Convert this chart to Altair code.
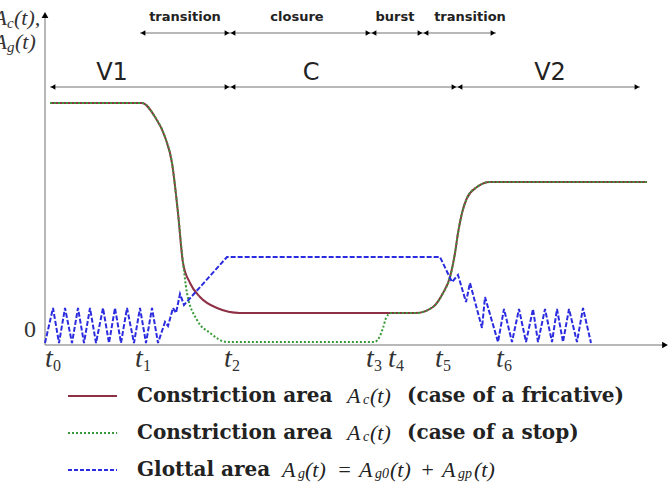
import altair as alt
import pandas as pd

# ---- curves (t: time units from origin, A: area units) ----
fric_t = [5, 97, 110, 120, 127, 133, 138, 145, 155, 172, 195, 371, 388, 398, 405, 410, 413, 417, 422, 432, 445, 602]
fric_A = [242, 242, 228, 208, 182, 132, 82, 62, 48, 37, 32, 32, 38, 52, 68, 92, 112, 132, 147, 158, 163, 163]

stop_t = [5, 97, 110, 120, 127, 133, 137, 142, 152, 165, 182, 329, 335, 338, 341, 346, 371, 388, 398, 405, 410, 413, 417, 422, 432, 445, 602]
stop_A = [242, 242, 228, 208, 182, 132, 92, 52, 25, 12, 3, 3, 9, 17, 27, 32, 32, 38, 52, 68, 92, 112, 132, 147, 158, 163, 163]

glot_t = [0, 8, 14, 20, 27, 33, 39, 45, 51, 58, 64, 70, 76, 82, 89, 95, 101, 107, 113,
          120, 123, 128, 131, 135, 139, 182,
          395, 407, 413, 421, 425, 437, 440, 453,
          459, 467, 474, 481, 488, 493, 500, 507, 512, 518, 524, 532, 538, 546]
glot_A = [2, 37, 2, 37, 2, 37, 2, 37, 2, 37, 2, 37, 2, 37, 2, 37, 2, 37, 2,
          23, 19, 37, 32, 51, 40, 88,
          88, 63, 70, 43, 62, 17, 48, 3,
          36, 3, 36, 3, 36, 3, 36, 3, 36, 3, 36, 3, 37, 2]

# ---- time marks ----
tick_t = [4, 94, 183, 325, 347, 394, 455]
tick_sub = ["0", "1", "2", "3", "4", "5", "6"]

# ---- phase annotations ----
row1_bounds = [95, 185, 326, 378, 451]
row1_labels = ["transition", "closure", "burst", "transition"]
row1_label_t = [140, 252, 350, 425]
row2_bounds = [5, 185, 412, 595]
row2_labels = ["V1", "C", "V2"]
row2_label_t = [67, 266, 505]
row1_A, row1_text_A = 312, 328
row2_A, row2_text_A = 258, 272

# ---- legend ----
leg_rows = [-51, -88, -125]
leg_line = [23, 72]
bold_text = ["Constriction area", "(case of a fricative)", "Constriction area", "(case of a stop)", "Glottal area"]
bold_t = [92, 362, 92, 362, 92]
bold_row = [-51, -51, -88, -88, -125]
math_text = ["A", "(t)", "A", "(t)", "A", "(t)", "=", "A", "(t)", "+", "A", "(t)"]
math_t = [302, 325, 302, 325, 237, 260, 292, 314, 345, 375, 397, 429]
math_row = [-51, -51, -88, -88, -125, -125, -125, -125, -125, -125, -125, -125]
sub_text = ["c", "c", "g", "g0", "gp"]
sub_t = [318, 318, 253, 330, 413]
sub_row = [-51, -88, -125, -125, -125]

xs = alt.Scale(domain=[-45, 627], nice=False, zero=False)
ys = alt.Scale(domain=[-137, 345], nice=False, zero=False)


def X(f="t"):
    return alt.X(f"{f}:Q", scale=xs, axis=None)


def Y(f="A"):
    return alt.Y(f"{f}:Q", scale=ys, axis=None)


def line(t, a, color, width, dash=None, interp="monotone"):
    df = pd.DataFrame({"t": t, "A": a, "i": range(len(t))})
    kw = dict(color=color, strokeWidth=width, interpolate=interp)
    if dash:
        kw["strokeDash"] = dash
    return alt.Chart(df).mark_line(**kw).encode(x=X(), y=Y(), order="i:Q")


def text(df, **kw):
    return alt.Chart(df).mark_text(**kw).encode(x=X(), y=Y(), text="s:N")


RED, GREEN, BLUE = "#8e3045", "#3a9a3a", "#2b2bdf"
GRAY = "#a0a0a0"

layers = []

# axes
axes_h = pd.DataFrame({"t": [0], "t2": [620], "A": [0]})
axes_v = pd.DataFrame({"t": [0], "A": [0], "A2": [328]})
layers.append(alt.Chart(axes_h).mark_rule(color=GRAY, strokeWidth=1.5).encode(x=X(), x2="t2:Q", y=Y()))
layers.append(alt.Chart(axes_v).mark_rule(color=GRAY, strokeWidth=1.5).encode(x=X(), y=Y(), y2="A2:Q"))
layers.append(alt.Chart(pd.DataFrame({"t": [620], "A": [0]})).mark_point(
    shape="triangle-right", filled=True, color="black", size=45, opacity=1).encode(x=X(), y=Y()))
layers.append(alt.Chart(pd.DataFrame({"t": [0], "A": [330]})).mark_point(
    shape="triangle-up", filled=True, color="black", size=45, opacity=1).encode(x=X(), y=Y()))

# phase arrows
for bounds, a in [(row1_bounds, row1_A), (row2_bounds, row2_A)]:
    seg = pd.DataFrame({"t": bounds[:-1], "t2": bounds[1:], "A": [a] * (len(bounds) - 1)})
    layers.append(alt.Chart(seg).mark_rule(color=GRAY, strokeWidth=1.5).encode(x=X(), x2="t2:Q", y=Y()))
    starts = pd.DataFrame({"t": bounds[:-1], "A": [a] * (len(bounds) - 1)})
    ends = pd.DataFrame({"t": bounds[1:], "A": [a] * (len(bounds) - 1)})
    layers.append(alt.Chart(starts).mark_point(shape="triangle-left", filled=True, color="black",
                                               size=30, opacity=1, xOffset=3).encode(x=X(), y=Y()))
    layers.append(alt.Chart(ends).mark_point(shape="triangle-right", filled=True, color="black",
                                             size=30, opacity=1, xOffset=-3).encode(x=X(), y=Y()))

layers.append(text(pd.DataFrame({"t": row1_label_t, "A": [row1_text_A] * 4, "s": row1_labels}),
                   font="DejaVu Sans", fontWeight="bold", fontSize=13, color="#222"))
layers.append(text(pd.DataFrame({"t": row2_label_t, "A": [row2_text_A] * 3, "s": row2_labels}),
                   font="DejaVu Sans", fontSize=24, color="#222"))

# curves
layers.append(line(fric_t, fric_A, RED, 2))
layers.append(line(stop_t, stop_A, GREEN, 2, dash=[2, 2]))
layers.append(line(glot_t, glot_A, BLUE, 2, dash=[5, 2], interp="linear"))

# tick labels
layers.append(text(pd.DataFrame({"t": tick_t, "A": [-14] * 7, "s": ["t"] * 7}),
                   font="Liberation Serif", fontStyle="italic", fontSize=28, color="#333"))
layers.append(text(pd.DataFrame({"t": tick_t, "A": [-14] * 7, "s": tick_sub}),
                   font="Liberation Serif", fontSize=16, color="#333", align="left", dx=4, dy=7))
layers.append(text(pd.DataFrame({"t": [-15], "A": [15], "s": ["0"]}),
                   font="Liberation Serif", fontSize=24, color="#333"))

# y label
layers.append(text(pd.DataFrame({"t": [-38, -38], "A": [327, 303], "s": ["A", "A"]}),
                   font="Liberation Serif", fontStyle="italic", fontSize=22, color="#333", align="right"))
layers.append(text(pd.DataFrame({"t": [-38, -38], "A": [327, 303], "s": ["c", "g"]}),
                   font="Liberation Serif", fontStyle="italic", fontSize=15, color="#333", align="left", dy=5))
layers.append(text(pd.DataFrame({"t": [-31, -30], "A": [327, 303], "s": ["(t),", "(t)"]}),
                   font="Liberation Serif", fontStyle="italic", fontSize=22, color="#333", align="left"))

# legend
for a, color, dash in zip(leg_rows, [RED, GREEN, BLUE], [None, [2, 2], [4, 2]]):
    df = pd.DataFrame({"t": [leg_line[0]], "t2": [leg_line[1]], "A": [a]})
    kw = dict(color=color, strokeWidth=2)
    if dash:
        kw["strokeDash"] = dash
    layers.append(alt.Chart(df).mark_rule(**kw).encode(x=X(), x2="t2:Q", y=Y()))

layers.append(text(pd.DataFrame({"t": bold_t, "A": bold_row, "s": bold_text}),
                   font="DejaVu Serif", fontWeight="bold", fontSize=20, color="#222", align="left"))
layers.append(text(pd.DataFrame({"t": math_t, "A": math_row, "s": math_text}),
                   font="Liberation Serif", fontStyle="italic", fontSize=22, color="#222", align="left"))
layers.append(text(pd.DataFrame({"t": sub_t, "A": sub_row, "s": sub_text}),
                   font="Liberation Serif", fontStyle="italic", fontSize=14, color="#222", align="left", dy=4))

chart = alt.layer(*layers).properties(
    width=672, height=482, autosize=alt.AutoSizeParams(type="none"), padding=0
).configure_view(stroke=None)

chart.save("out.html", embed_options={"renderer": "svg", "actions": False})
